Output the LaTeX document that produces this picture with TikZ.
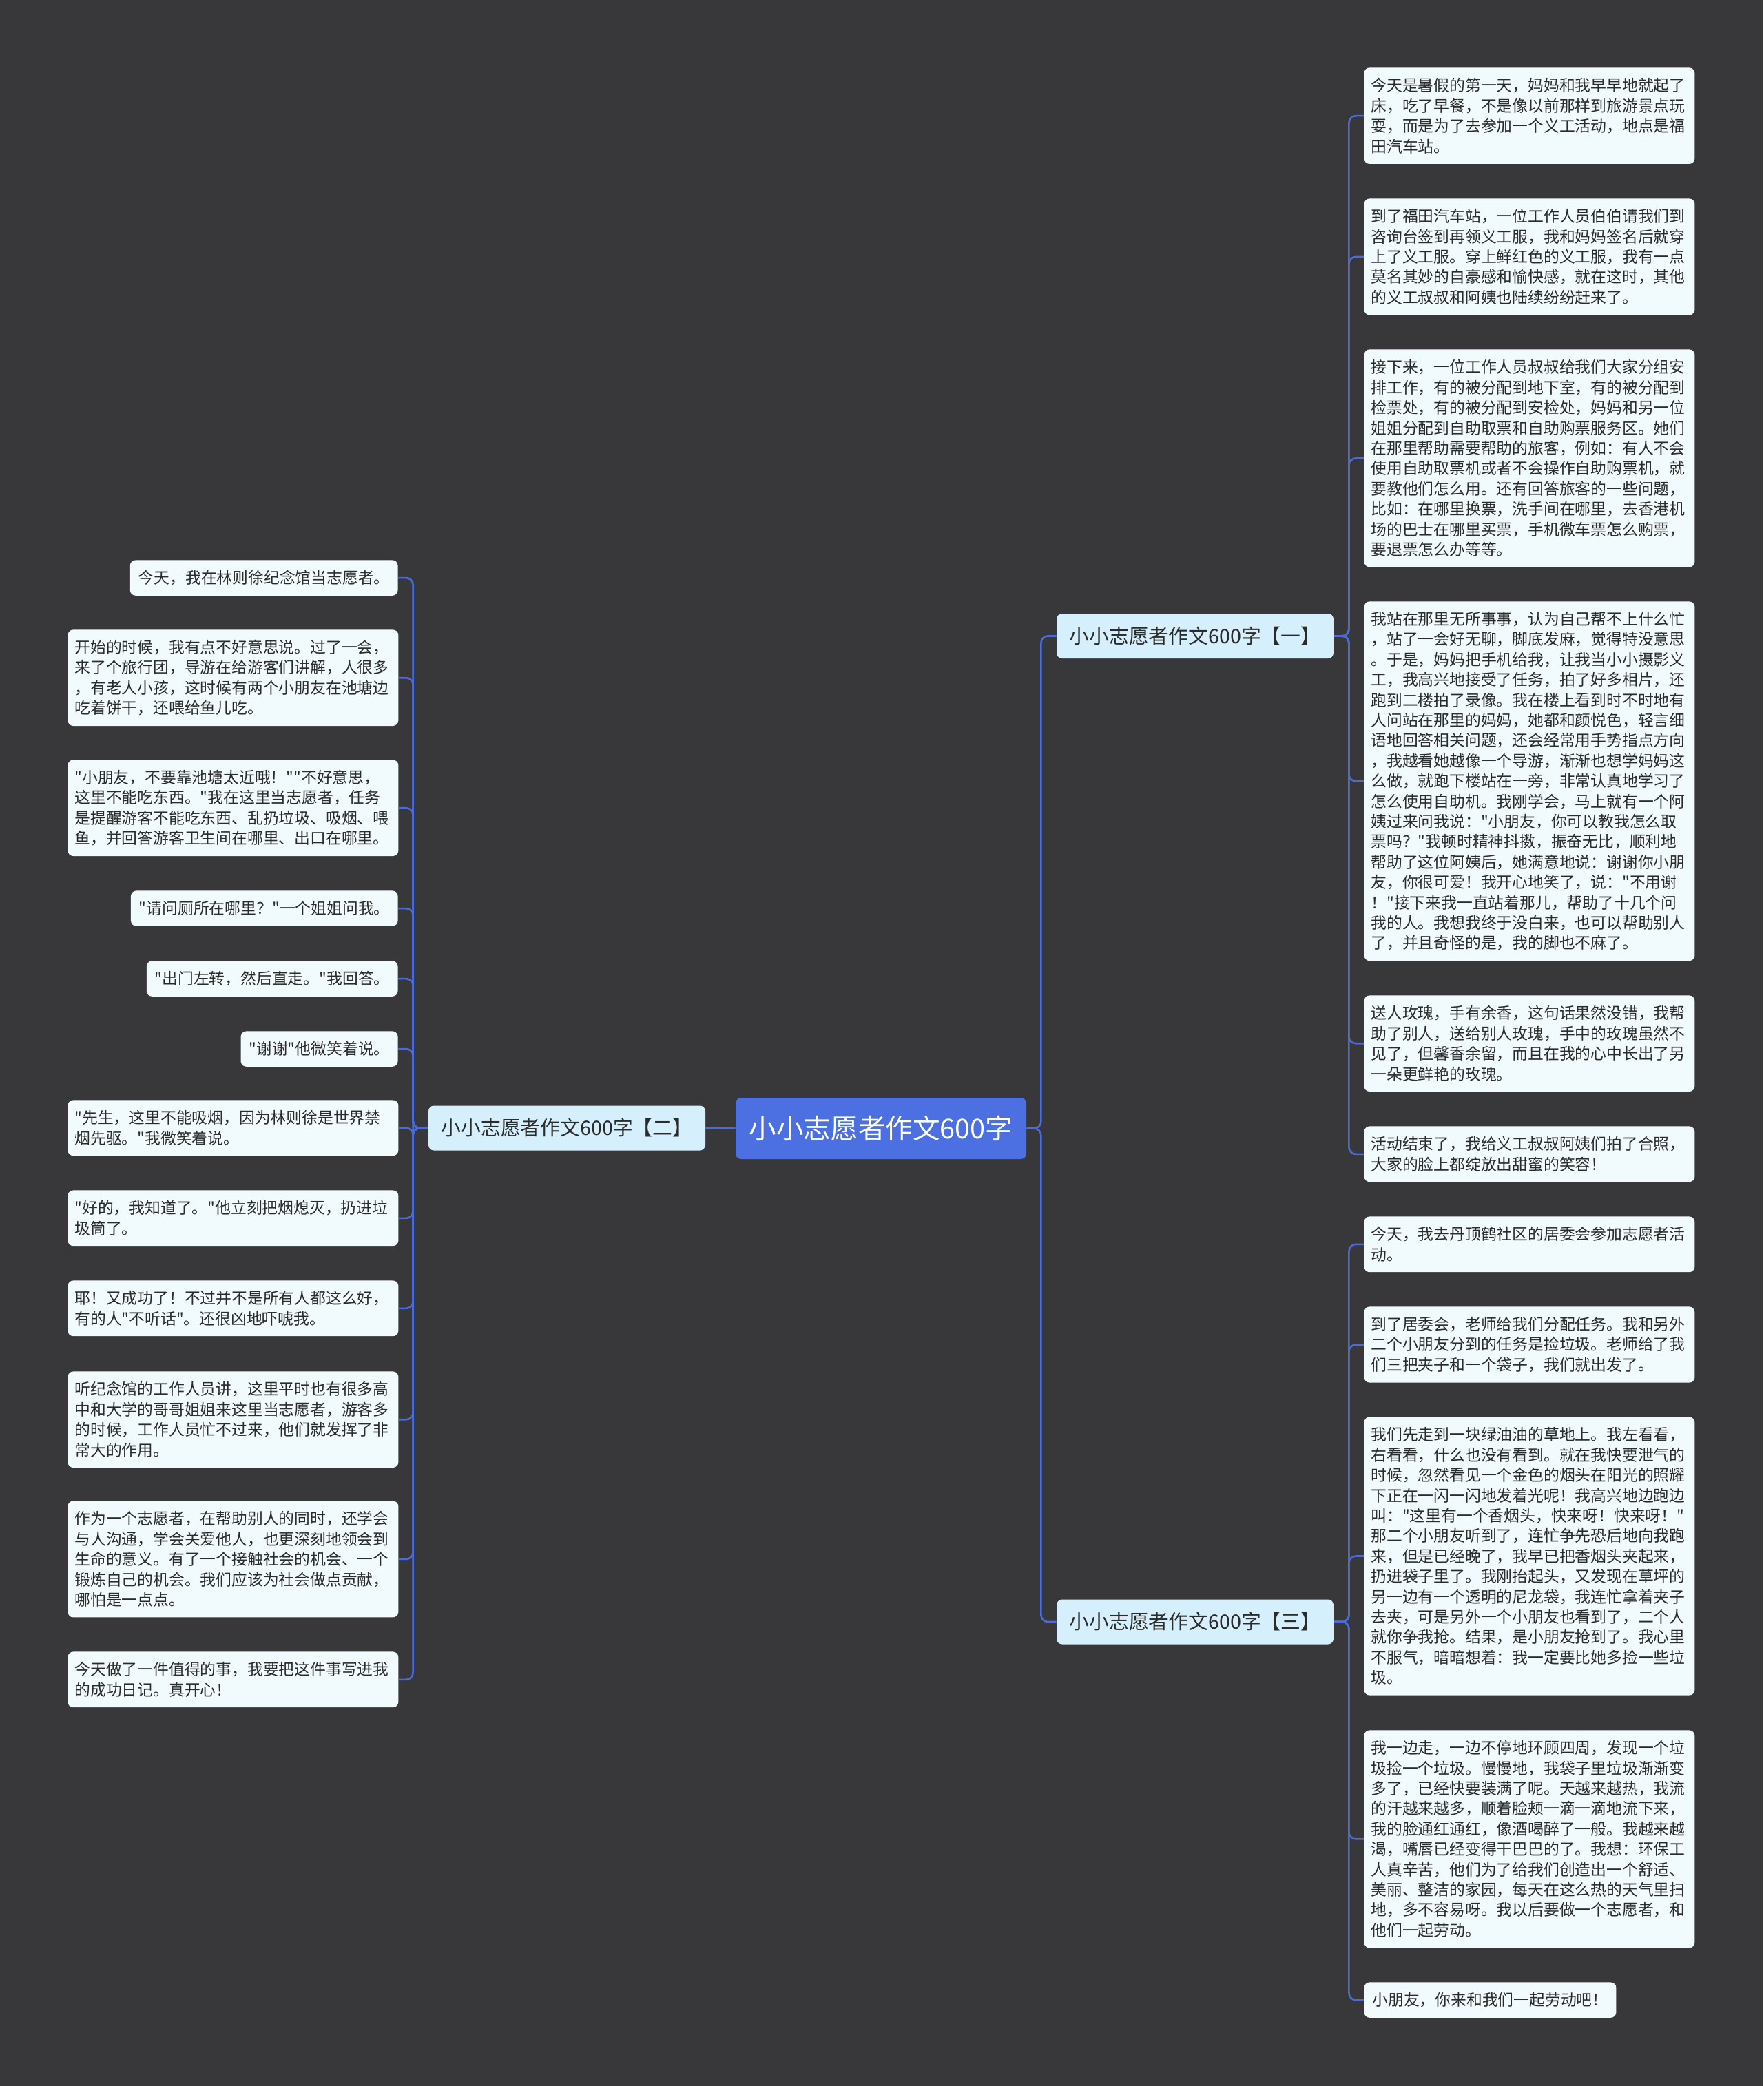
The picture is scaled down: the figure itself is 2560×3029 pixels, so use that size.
\documentclass[tikz,border=0pt]{standalone}
\usepackage{fontspec}
\setmainfont{Noto Sans CJK SC}[Ligatures=TeXOff]
\definecolor{bgc}{HTML}{38373A}
\definecolor{linec}{HTML}{4A6BD8}
\definecolor{mainc}{HTML}{4C6FE1}
\definecolor{branchc}{HTML}{D5F0FC}
\definecolor{leafc}{HTML}{F1FAFD}
\definecolor{txtc}{HTML}{2B2B2B}
\begin{document}
\begin{tikzpicture}[x=0.5pt,y=-0.5pt,
  conn/.style={draw=linec,line width=1.3pt,rounded corners=5pt},
  leafbox/.style={fill=leafc,rounded corners=4pt,inner xsep=5pt,inner ysep=2pt,
    align=left,text=txtc,font=\fontsize{11.4pt}{14.7pt}\selectfont},
  wide/.style={leafbox,text width=230pt,anchor=north west},
  narrowR/.style={leafbox,anchor=north east,inner xsep=6pt},
  narrowL/.style={leafbox,anchor=north west,inner xsep=6pt},
  nl/.style={minimum height={11pt+14.7pt*#1}},
  branchbox/.style={fill=branchc,rounded corners=4pt,text=txtc,minimum width=201pt,
    minimum height=32.5pt,inner sep=0pt,font=\fontsize{14.4pt}{17pt}\selectfont},
  mainbox/.style={fill=mainc,rounded corners=4pt,text=white,minimum width=211pt,
    minimum height=44.5pt,inner sep=0pt,font=\fontsize{19.8pt}{23pt}\selectfont}]
\fill[bgc] (0,0) rectangle (2560,3029);
\useasboundingbox (0,0) rectangle (2560,3029);

% main and branches
\node[mainbox] (main) at (1279,1638.5) {小小志愿者作文600字};
\node[branchbox] (b1) at (1735,923.5) {小小志愿者作文600字【一】};
\node[branchbox] (b2) at (823,1638) {小小志愿者作文600字【二】};
\node[branchbox] (b3) at (1735,2355) {小小志愿者作文600字【三】};

% right leaves, branch one
\node[wide,nl=4] (r1) at (1980,98) {今天是暑假的第一天，妈妈和我早早地就起了\\床，吃了早餐，不是像以前那样到旅游景点玩\\耍，而是为了去参加一个义工活动，地点是福\\田汽车站。};
\node[wide,nl=5] (r2) at (1980,288) {到了福田汽车站，一位工作人员伯伯请我们到\\咨询台签到再领义工服，我和妈妈签名后就穿\\上了义工服。穿上鲜红色的义工服，我有一点\\莫名其妙的自豪感和愉快感，就在这时，其他\\的义工叔叔和阿姨也陆续纷纷赶来了。};
\node[wide,nl=10] (r3) at (1980,507) {接下来，一位工作人员叔叔给我们大家分组安\\排工作，有的被分配到地下室，有的被分配到\\检票处，有的被分配到安检处，妈妈和另一位\\姐姐分配到自助取票和自助购票服务区。她们\\在那里帮助需要帮助的旅客，例如：有人不会\\使用自助取票机或者不会操作自助购票机，就\\要教他们怎么用。还有回答旅客的一些问题，\\比如：在哪里换票，洗手间在哪里，去香港机\\场的巴士在哪里买票，手机微车票怎么购票，\\要退票怎么办等等。};
\node[wide,nl=17] (r4) at (1980,873) {我站在那里无所事事，认为自己帮不上什么忙\\，站了一会好无聊，脚底发麻，觉得特没意思\\。于是，妈妈把手机给我，让我当小小摄影义\\工，我高兴地接受了任务，拍了好多相片，还\\跑到二楼拍了录像。我在楼上看到时不时地有\\人问站在那里的妈妈，她都和颜悦色，轻言细\\语地回答相关问题，还会经常用手势指点方向\\，我越看她越像一个导游，渐渐也想学妈妈这\\么做，就跑下楼站在一旁，非常认真地学习了\\怎么使用自助机。我刚学会，马上就有一个阿\\姨过来问我说："小朋友，你可以教我怎么取\\票吗？"我顿时精神抖擞，振奋无比，顺利地\\帮助了这位阿姨后，她满意地说：谢谢你小朋\\友，你很可爱！我开心地笑了，说："不用谢\\！"接下来我一直站着那儿，帮助了十几个问\\我的人。我想我终于没白来，也可以帮助别人\\了，并且奇怪的是，我的脚也不麻了。};
\node[wide,nl=4] (r5) at (1980,1445) {送人玫瑰，手有余香，这句话果然没错，我帮\\助了别人，送给别人玫瑰，手中的玫瑰虽然不\\见了，但馨香余留，而且在我的心中长出了另\\一朵更鲜艳的玫瑰。};
\node[wide,nl=2] (r6) at (1980,1635) {活动结束了，我给义工叔叔阿姨们拍了合照，\\大家的脸上都绽放出甜蜜的笑容！};

% right leaves, branch three
\node[wide,nl=2] (r7) at (1980,1766) {今天，我去丹顶鹤社区的居委会参加志愿者活\\动。};
\node[wide,nl=3] (r8) at (1980,1897) {到了居委会，老师给我们分配任务。我和另外\\二个小朋友分到的任务是捡垃圾。老师给了我\\们三把夹子和一个袋子，我们就出发了。};
\node[wide,nl=13] (r9) at (1980,2057) {我们先走到一块绿油油的草地上。我左看看，\\右看看，什么也没有看到。就在我快要泄气的\\时候，忽然看见一个金色的烟头在阳光的照耀\\下正在一闪一闪地发着光呢！我高兴地边跑边\\叫："这里有一个香烟头，快来呀！快来呀！"\\那二个小朋友听到了，连忙争先恐后地向我跑\\来，但是已经晚了，我早已把香烟头夹起来，\\扔进袋子里了。我刚抬起头，又发现在草坪的\\另一边有一个透明的尼龙袋，我连忙拿着夹子\\去夹，可是另外一个小朋友也看到了，二个人\\就你争我抢。结果，是小朋友抢到了。我心里\\不服气，暗暗想着：我一定要比她多捡一些垃\\圾。};
\node[wide,nl=10] (r10) at (1980,2512) {我一边走，一边不停地环顾四周，发现一个垃\\圾捡一个垃圾。慢慢地，我袋子里垃圾渐渐变\\多了，已经快要装满了呢。天越来越热，我流\\的汗越来越多，顺着脸颊一滴一滴地流下来，\\我的脸通红通红，像酒喝醉了一般。我越来越\\渴，嘴唇已经变得干巴巴的了。我想：环保工\\人真辛苦，他们为了给我们创造出一个舒适、\\美丽、整洁的家园，每天在这么热的天气里扫\\地，多不容易呀。我以后要做一个志愿者，和\\他们一起劳动。};
\node[narrowL,nl=1] (r11) at (1980,2878) {小朋友，你来和我们一起劳动吧！};

% left leaves, branch two
\node[narrowR,nl=1] (l1) at (578,813) {今天，我在林则徐纪念馆当志愿者。};
\node[wide,nl=4] (l2) at (98,914) {开始的时候，我有点不好意思说。过了一会，\\来了个旅行团，导游在给游客们讲解，人很多\\，有老人小孩，这时候有两个小朋友在池塘边\\吃着饼干，还喂给鱼儿吃。};
\node[wide,nl=4] (l3) at (98,1103) {"小朋友，不要靠池塘太近哦！""不好意思，\\这里不能吃东西。"我在这里当志愿者，任务\\是提醒游客不能吃东西、乱扔垃圾、吸烟、喂\\鱼，并回答游客卫生间在哪里、出口在哪里。};
\node[narrowR,nl=1] (l4) at (578,1293) {"请问厕所在哪里？"一个姐姐问我。};
\node[narrowR,nl=1] (l5) at (578,1395) {"出门左转，然后直走。"我回答。};
\node[narrowR,nl=1] (l6) at (578,1497) {"谢谢"他微笑着说。};
\node[wide,nl=2] (l7) at (98,1597) {"先生，这里不能吸烟，因为林则徐是世界禁\\烟先驱。"我微笑着说。};
\node[wide,nl=2] (l8) at (98,1728) {"好的，我知道了。"他立刻把烟熄灭，扔进垃\\圾筒了。};
\node[wide,nl=2] (l9) at (98,1859) {耶！又成功了！不过并不是所有人都这么好，\\有的人"不听话"。还很凶地吓唬我。};
\node[wide,nl=4] (l10) at (98,1991) {听纪念馆的工作人员讲，这里平时也有很多高\\中和大学的哥哥姐姐来这里当志愿者，游客多\\的时候，工作人员忙不过来，他们就发挥了非\\常大的作用。};
\node[wide,nl=5] (l11) at (98,2179) {作为一个志愿者，在帮助别人的同时，还学会\\与人沟通，学会关爱他人，也更深刻地领会到\\生命的意义。有了一个接触社会的机会、一个\\锻炼自己的机会。我们应该为社会做点贡献，\\哪怕是一点点。};
\node[wide,nl=2] (l12) at (98,2398) {今天做了一件值得的事，我要把这件事写进我\\的成功日记。真开心！};

% connectors
\draw[conn] (main.west) -- (b2.east);
\foreach \b in {b1,b3}
  \draw[conn] (main.east) -- ++(10.5pt,0) |- (\b.west);
\foreach \c in {r1,r2,r3,r4,r5,r6}
  \draw[conn] (b1.east) -- ++(11pt,0) |- (\c.west);
\foreach \c in {r7,r8,r9,r10,r11}
  \draw[conn] (b3.east) -- ++(11pt,0) |- (\c.west);
\foreach \c in {l1,l2,l3,l4,l5,l6,l7,l8,l9,l10,l11,l12}
  \draw[conn] (b2.west) -- ++(-11pt,0) |- (\c.east);
\end{tikzpicture}
\end{document}
